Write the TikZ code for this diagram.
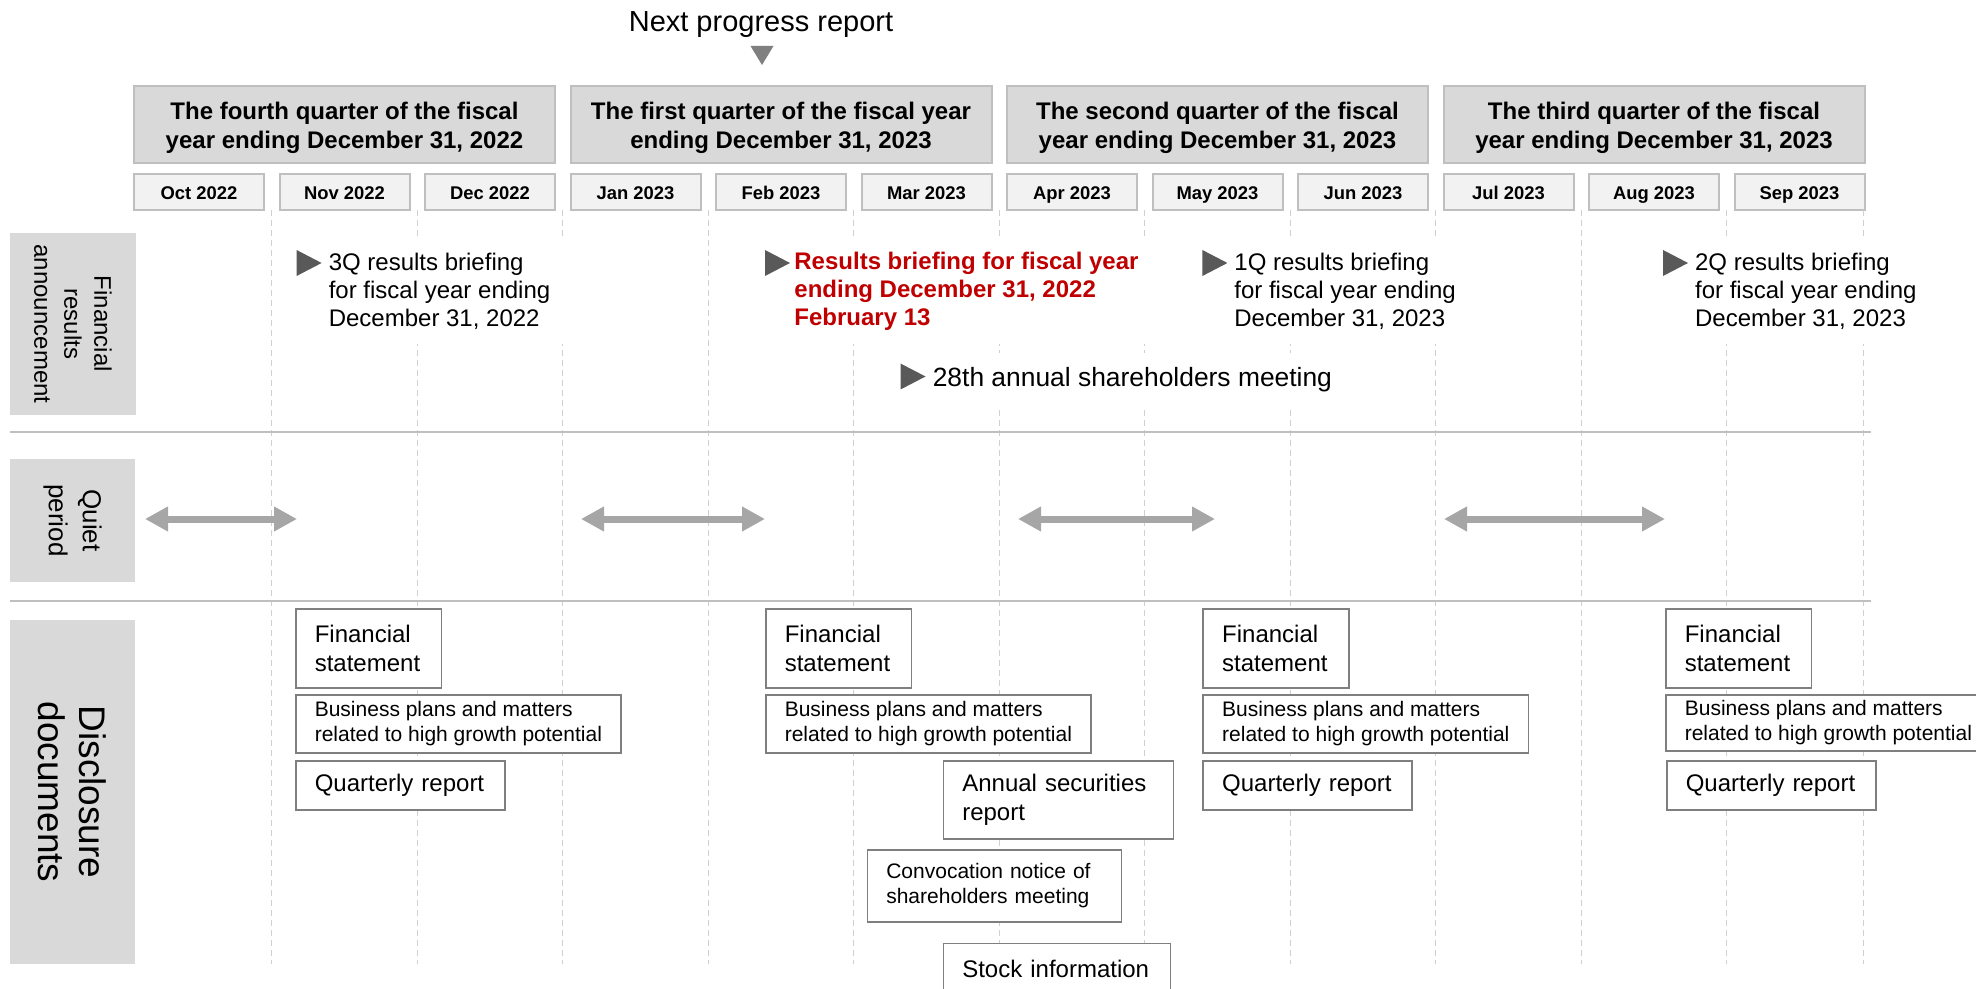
\documentclass[tikz,border=0pt]{standalone}
\usepackage{fontspec}
\setmainfont{Liberation Sans}
\usetikzlibrary{arrows.meta}
\definecolor{qgray}{HTML}{D9D9D9}
\definecolor{mgray}{HTML}{F2F2F2}
\definecolor{edgegray}{HTML}{BFBFBF}
\definecolor{dashgray}{HTML}{D0D0D0}
\definecolor{boxgray}{HTML}{7F7F7F}
\definecolor{arrowgray}{HTML}{A6A6A6}
\definecolor{markgray}{HTML}{595959}
\definecolor{pointgray}{HTML}{808080}
\definecolor{alertred}{HTML}{C00000}
\newcommand{\qstrut}{\rule{0pt}{11.8pt}}

\begin{document}
\begin{tikzpicture}[
        x=0.5pt, y=-0.5pt,
        quarter/.style={draw=edgegray, line width=1pt, fill=qgray, minimum width=210.5pt, minimum height=38.5pt, inner sep=0pt, align=center, font=\fontsize{12pt}{14.5pt}\selectfont\bfseries},
        month/.style={draw=edgegray, line width=1pt, fill=mgray, minimum width=65pt, minimum height=18pt, inner sep=0pt, text height=8.1pt, text depth=0.7pt, font=\fontsize{9.2pt}{11pt}\selectfont\bfseries},
        rowlabel/.style={fill=qgray, rotate=-90, inner sep=0pt, align=center},
        monthline/.style={draw=dashgray, line width=0.5pt, dash pattern=on 3pt off 2pt},
        divider/.style={draw=edgegray, line width=1pt},
        event/.style={fill=white, anchor=north west, align=left, inner xsep=8pt, inner ysep=7pt, font=\fontsize{12pt}{14pt}\selectfont},
        doc/.style={draw=boxgray, line width=0.8pt, fill=white, anchor=north west, align=left, inner xsep=9.5pt, inner ysep=0pt, font=\fontsize{12pt}{14.5pt}\selectfont},
        smalldoc/.style={doc, font=\fontsize{10.5pt}{12.75pt}\selectfont},
        quiet/.style={draw=arrowgray, line width=3.5pt, {Triangle[length=11.5pt,width=11.7pt]}-{Triangle[length=11.5pt,width=11.7pt]}},
        flag/.pic={\fill[markgray] (0,-13) -- (25,0) -- (0,13) -- cycle;},
    ]
    \useasboundingbox (0,0) rectangle (1976,989);
    \clip (0,0) rectangle (1976,989);

    \node[anchor=base, font=\fontsize{14.5pt}{17pt}\selectfont](next) at (761,31.5){Next progress report};
    \fill[pointgray] (750.5,46) -- (773.5,46) -- (762,65) -- cycle;

    \node[quarter](q4) at (344.5,124.5){\qstrut The fourth quarter of the fiscal\\year ending December 31, 2022};
    \node[quarter](q1) at (781,124.5){\qstrut The first quarter of the fiscal year\\ending December 31, 2023};
    \node[quarter](q2) at (1217.5,124.5){\qstrut The second quarter of the fiscal\\year ending December 31, 2023};
    \node[quarter](q3) at (1654,124.5){\qstrut The third quarter of the fiscal\\year ending December 31, 2023};

    \foreach \m [count=\i from 0] in {Oct 2022,Nov 2022,Dec 2022,Jan 2023,Feb 2023,Mar 2023,Apr 2023,May 2023,Jun 2023,Jul 2023,Aug 2023,Sep 2023}
        \node[month](m\i) at ({199+145.5*\i},192){\m};

    \foreach \i in {1,...,11}
        \draw[monthline] ({126+145.5*\i},210) -- ({126+145.5*\i},964);
    \draw[monthline] (1863,210) -- (1863,964);

    \draw[divider] (10,432) -- (1871,432);
    \draw[divider] (10,601) -- (1871,601);

    \node[rowlabel, minimum width=91pt, minimum height=63pt, font=\fontsize{12pt}{15pt}\selectfont](lfin) at (73,324){Financial\\results\\announcement};
    \node[rowlabel, minimum width=61.5pt, minimum height=62.5pt, font=\fontsize{13pt}{17pt}\selectfont](lquiet) at (72.5,520.5){Quiet\\period};
    \node[rowlabel, minimum width=172pt, minimum height=62.5pt, font=\fontsize{18.5pt}{20.5pt}\selectfont](ldoc) at (72.5,792){Disclosure\\documents};

    \node[event](e3q) at (312.4,239){3Q results briefing\\for fiscal year ending\\December 31, 2022};
    \node[event, text=alertred, font=\fontsize{12pt}{14pt}\selectfont\bfseries](efy) at (778,237.7){Results briefing for fiscal year\\ending December 31, 2022\\February 13};
    \node[event](e1q) at (1218,239){1Q results briefing\\for fiscal year ending\\December 31, 2023};
    \node[event](e2q) at (1678.7,239){2Q results briefing\\for fiscal year ending\\December 31, 2023};
    \node[event, font=\fontsize{13.2pt}{15pt}\selectfont](eagm) at (916.4,352.7){28th annual shareholders meeting};

    \pic at (296.6,263){flag};
    \pic at (765,263){flag};
    \pic at (1202.4,263){flag};
    \pic at (1663,263){flag};
    \pic at (900.5,376.5){flag};

    \coordinate (qa1) at (145,519);
    \coordinate (qb1) at (297,519);
    \coordinate (qa2) at (581,519);
    \coordinate (qb2) at (765,519);
    \coordinate (qa3) at (1018,519);
    \coordinate (qb3) at (1215,519);
    \coordinate (qa4) at (1444,519);
    \coordinate (qb4) at (1665,519);
    \draw[quiet] (qa1) -- (qb1);
    \draw[quiet] (qa2) -- (qb2);
    \draw[quiet] (qa3) -- (qb3);
    \draw[quiet] (qa4) -- (qb4);

    \node[doc, text width=53.75pt, minimum height=39.5pt](fin4) at (295,608){Financial\\statement};
    \node[smalldoc, minimum height=29pt](plan4) at (295,694){Business plans and matters\\related to high growth potential};
    \node[doc, text width=85.5pt, minimum height=24.5pt](rep4) at (295,760){Quarterly report};

    \node[doc, text width=53.75pt, minimum height=39.5pt](fin1) at (765,608){Financial\\statement};
    \node[smalldoc, minimum height=29pt](plan1) at (765,694){Business plans and matters\\related to high growth potential};
    \node[doc, text width=96pt, minimum height=39pt](sec1) at (942.5,760){Annual securities\\report};
    \node[smalldoc, text width=108pt, minimum height=36pt](conv1) at (866.5,849){Convocation notice of\\shareholders meeting};
    \node[doc, text width=94.5pt, minimum height=25.5pt](stock1) at (942.5,942.5){Stock information};

    \node[doc, text width=54pt, minimum height=39.5pt](fin2) at (1202.4,608){Financial\\statement};
    \node[smalldoc, minimum height=29pt](plan2) at (1202.4,694){Business plans and matters\\related to high growth potential};
    \node[doc, text width=85.5pt, minimum height=24.5pt](rep2) at (1202.4,760){Quarterly report};

    \node[doc, text width=53.75pt, minimum height=39.5pt](fin3) at (1665,608){Financial\\statement};
    \node[smalldoc, minimum height=28pt](plan3) at (1665,694){Business plans and matters\\related to high growth potential};
    \node[doc, text width=85.5pt, minimum height=24.5pt](rep3) at (1666,760){Quarterly report};
\end{tikzpicture}
\end{document}
